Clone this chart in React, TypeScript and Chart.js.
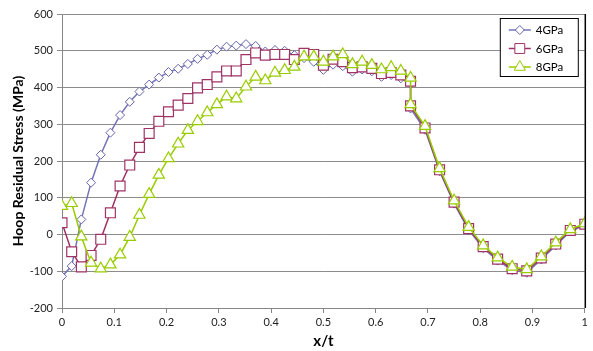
import React, { useEffect, useRef } from 'react';
import { Chart, registerables } from 'chart.js';
import { drawPoint } from 'chart.js/helpers';

Chart.register(...registerables);

// Node positions through the thickness (x/t)
const xPositions = [
  0, 0.0185, 0.037, 0.0556, 0.0741, 0.0926, 0.1111, 0.1296, 0.1481, 0.1667,
  0.1852, 0.2037, 0.2222, 0.2407, 0.2593, 0.2778, 0.2963, 0.3148, 0.3333, 0.3519,
  0.3704, 0.3889, 0.4074, 0.4259, 0.4444, 0.463, 0.4815, 0.5, 0.5185, 0.537,
  0.5556, 0.5741, 0.5926, 0.6111, 0.6296, 0.6481, 0.6667,
  0.6667, 0.6944, 0.7222, 0.75, 0.7778, 0.8056, 0.8333, 0.8611, 0.8889, 0.9167,
  0.9444, 0.9722, 1,
];

const stress4GPa = [
  -114, -86, 41, 141, 217, 277, 325, 361, 389, 408,
  427, 442, 451, 464, 478, 489, 503, 511, 514, 518,
  513, 498, 502, 500, 488, 480, 470, 448, 462, 458,
  443, 449, 444, 429, 434, 425, 411,
  343, 285, 172, 84, 12, -37, -71, -97, -104, -68,
  -30, 8, 26,
];

const stress6GPa = [
  32, -47, -88, -57, -13, 59, 132, 189, 237, 275,
  308, 334, 352, 370, 399, 408, 429, 445, 445, 476,
  494, 488, 490, 490, 476, 493, 490, 461, 477, 470,
  454, 456, 452, 438, 441, 434, 417,
  350, 290, 176, 88, 16, -33, -67, -93, -99, -64,
  -26, 11, 28,
];

const stress8GPa = [
  77, 85, -6, -77, -93, -82, -55, -7, 53, 110,
  162, 207, 247, 284, 308, 332, 354, 375, 370, 402,
  429, 419, 440, 447, 456, 484, 484, 470, 484, 490,
  463, 470, 461, 449, 455, 445, 426,
  354, 295, 180, 92, 20, -30, -63, -88, -95, -60,
  -22, 14, 30,
];

const seriesLabels = ['4GPa', '6GPa', '8GPa'];
const xTickLabels = ['0', '0.1', '0.2', '0.3', '0.4', '0.5', '0.6', '0.7', '0.8', '0.9', '1'];
const yTickLabels = ['-200', '-100', '0', '100', '200', '300', '400', '500', '600'];

const FONT = 'Lato, "Open Sans", sans-serif';

const legendBoxPlugin = {
  id: 'legendBox',
  afterDraw(chart: any) {
    const ctx = chart.ctx;
    const { right, top, bottom } = chart.chartArea;
    ctx.save();
    // right border of plot area
    ctx.strokeStyle = '#000';
    ctx.lineWidth = 1.5;
    ctx.beginPath();
    ctx.moveTo(right + 0.5, top);
    ctx.lineTo(right + 0.5, bottom);
    ctx.stroke();

    const x0 = right - 85;
    const y0 = top + 4;
    const w = 78;
    const h = 58;
    ctx.fillStyle = '#fff';
    ctx.fillRect(x0, y0, w, h);
    ctx.strokeStyle = '#000';
    ctx.lineWidth = 1;
    ctx.strokeRect(x0 + 0.5, y0 + 0.5, w, h);
    chart.data.datasets.forEach((ds: any, i: number) => {
      const cy = y0 + 12 + i * 18.5;
      ctx.strokeStyle = ds.borderColor;
      ctx.lineWidth = 1.5;
      ctx.beginPath();
      ctx.moveTo(x0 + 9, cy);
      ctx.lineTo(x0 + 31, cy);
      ctx.stroke();
      ctx.fillStyle = '#fff';
      ctx.strokeStyle = ds.pointBorderColor;
      ctx.lineWidth = 1;
      drawPoint(ctx, { pointStyle: ds.pointStyle, radius: ds.pointRadius, borderWidth: 1, rotation: 0 }, x0 + 20, cy);
      ctx.fillStyle = '#000';
      ctx.font = `11.5px ${FONT}`;
      ctx.textBaseline = 'middle';
      ctx.textAlign = 'left';
      ctx.fillText(ds.label, x0 + 36, cy + 0.5);
    });
    ctx.restore();
  },
};

export default function App() {
  const canvasRef = useRef<HTMLCanvasElement | null>(null);

  useEffect(() => {
    const canvas = canvasRef.current;
    if (!canvas) return;
    const mk = (vals: number[]) => vals.map((v, i) => ({ x: xPositions[i], y: v }));
    const chart = new Chart(canvas, {
      type: 'line',
      data: {
        datasets: [
          {
            label: seriesLabels[0],
            data: mk(stress4GPa),
            borderColor: '#7373B6',
            pointBorderColor: '#6464AA',
            pointBackgroundColor: '#fff',
            borderWidth: 1.5,
            pointStyle: 'rectRot',
            pointRadius: 4.5,
            pointBorderWidth: 1,
            order: 2,
          },
          {
            label: seriesLabels[1],
            data: mk(stress6GPa),
            borderColor: '#9E2F62',
            pointBorderColor: '#A03366',
            pointBackgroundColor: '#fff',
            borderWidth: 1.5,
            pointStyle: 'rect',
            pointRadius: 7,
            pointBorderWidth: 1.2,
            order: 1,
          },
          {
            label: seriesLabels[2],
            data: mk(stress8GPa),
            borderColor: '#99CC00',
            pointBorderColor: '#99CC00',
            pointBackgroundColor: '#fff',
            borderWidth: 1.5,
            pointStyle: 'triangle',
            pointRadius: 6.5,
            pointBorderWidth: 1.2,
            order: 0,
          },
        ],
      },
      options: {
        responsive: false,
        animation: false,
        events: [],
        layout: { padding: { left: 0, right: 5, top: 14, bottom: 0 } },
        plugins: {
          legend: { display: false },
          tooltip: { enabled: false },
        },
        scales: {
          x: {
            type: 'linear',
            min: 0,
            max: 1,
            ticks: {
              stepSize: 0.1,
              autoSkip: false,
              maxRotation: 0,
              padding: 3,
              color: '#222',
              font: { family: FONT, size: 11 },
              callback: (v: any) => xTickLabels[Math.round(Number(v) * 10)],
            },
            grid: { drawOnChartArea: false, drawTicks: true, tickLength: 5, color: '#868686' },
            border: { color: '#868686', width: 1 },
            title: {
              display: true,
              text: 'x/t',
              color: '#000',
              font: { family: FONT, size: 15, weight: 'bold' },
              padding: { top: 0, bottom: 1 },
            },
            afterFit: (s: any) => {
              s.height = 43;
            },
          },
          y: {
            type: 'linear',
            min: -200,
            max: 600,
            ticks: {
              stepSize: 100,
              padding: 4,
              color: '#222',
              font: { family: FONT, size: 11 },
              callback: (v: any) => yTickLabels[Math.round((Number(v) + 200) / 100)],
            },
            grid: { color: '#8C8C8C', tickLength: 5, lineWidth: 1 },
            border: { color: '#868686', width: 1 },
            title: {
              display: true,
              text: 'Hoop Residual Stress (MPa)',
              color: '#000',
              font: { family: FONT, size: 14, weight: 'bold' },
              padding: { top: 10, bottom: 0 },
            },
            afterFit: (s: any) => {
              s.width = 62;
            },
          },
        },
      },
      plugins: [legendBoxPlugin],
    });
    return () => chart.destroy();
  }, []);

  return (
    <div style={{ position: 'absolute', left: 0, top: 0, width: 593, height: 351, background: '#fff' }}>
      <canvas ref={canvasRef} width={593} height={351} style={{ display: 'block', width: 593, height: 351 }} />
    </div>
  );
}
